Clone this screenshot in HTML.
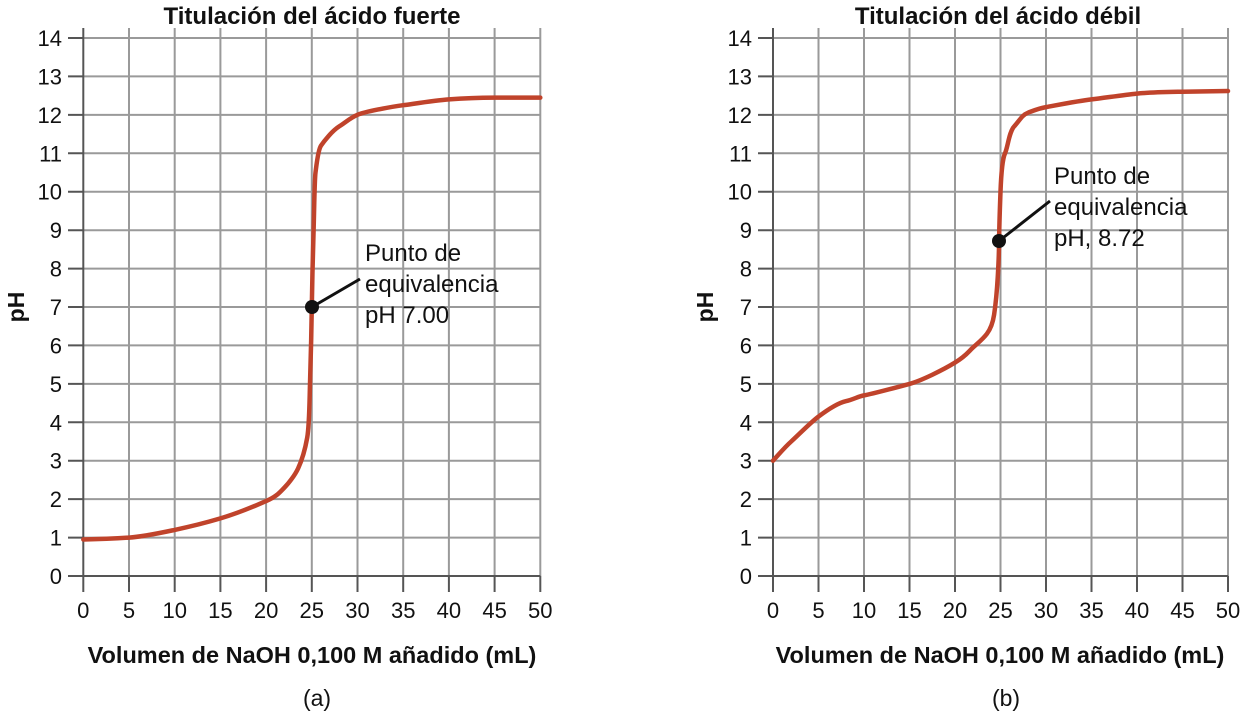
<!DOCTYPE html>
<html><head><meta charset="utf-8"><style>
html,body{margin:0;padding:0;background:#fff;}
svg{display:block;font-family:"Liberation Sans",sans-serif;}
</style></head><body>
<svg width="1258" height="715" viewBox="0 0 1258 715" xmlns="http://www.w3.org/2000/svg">

<!-- LEFT CHART -->
<g>
  <g stroke="#9a9a9a" stroke-width="2">
    <line x1="83.3" y1="38" x2="540" y2="38"/><line x1="83.3" y1="76.4" x2="540" y2="76.4"/>
    <line x1="83.3" y1="114.9" x2="540" y2="114.9"/><line x1="83.3" y1="153.3" x2="540" y2="153.3"/>
    <line x1="83.3" y1="191.7" x2="540" y2="191.7"/><line x1="83.3" y1="230.2" x2="540" y2="230.2"/>
    <line x1="83.3" y1="268.6" x2="540" y2="268.6"/><line x1="83.3" y1="307" x2="540" y2="307"/>
    <line x1="83.3" y1="345.4" x2="540" y2="345.4"/><line x1="83.3" y1="383.9" x2="540" y2="383.9"/>
    <line x1="83.3" y1="422.3" x2="540" y2="422.3"/><line x1="83.3" y1="460.7" x2="540" y2="460.7"/>
    <line x1="83.3" y1="499.1" x2="540" y2="499.1"/><line x1="83.3" y1="537.6" x2="540" y2="537.6"/>
    <line x1="129" y1="28" x2="129" y2="576"/><line x1="174.7" y1="28" x2="174.7" y2="576"/>
    <line x1="220.4" y1="28" x2="220.4" y2="576"/><line x1="266.1" y1="28" x2="266.1" y2="576"/>
    <line x1="311.8" y1="28" x2="311.8" y2="576"/><line x1="357.5" y1="28" x2="357.5" y2="576"/>
    <line x1="403.2" y1="28" x2="403.2" y2="576"/><line x1="448.9" y1="28" x2="448.9" y2="576"/>
    <line x1="494.6" y1="28" x2="494.6" y2="576"/><line x1="540.3" y1="28" x2="540.3" y2="576"/>
  </g>
  <g stroke="#555" stroke-width="2">
    <line x1="83.3" y1="28" x2="83.3" y2="592"/>
    <line x1="68" y1="576" x2="540.3" y2="576"/>
    <path d="M68 38H83M68 76.4H83M68 114.9H83M68 153.3H83M68 191.7H83M68 230.2H83M68 268.6H83M68 307H83M68 345.4H83M68 383.9H83M68 422.3H83M68 460.7H83M68 499.1H83M68 537.6H83"/>
    <path d="M129 576V592M174.7 576V592M220.4 576V592M266.1 576V592M311.8 576V592M357.5 576V592M403.2 576V592M448.9 576V592M494.6 576V592M540.3 576V592"/>
  </g>
  <g font-size="22" fill="#111" text-anchor="end">
    <text x="62" y="46">14</text><text x="62" y="84.4">13</text><text x="62" y="122.9">12</text>
    <text x="62" y="161.3">11</text><text x="62" y="199.7">10</text><text x="62" y="238.2">9</text>
    <text x="62" y="276.6">8</text><text x="62" y="315">7</text><text x="62" y="353.4">6</text>
    <text x="62" y="391.9">5</text><text x="62" y="430.3">4</text><text x="62" y="468.7">3</text>
    <text x="62" y="507.1">2</text><text x="62" y="545.6">1</text><text x="62" y="584">0</text>
  </g>
  <g font-size="22" fill="#111" text-anchor="middle">
    <text x="83.3" y="618">0</text><text x="129" y="618">5</text><text x="174.7" y="618">10</text>
    <text x="220.4" y="618">15</text><text x="266.1" y="618">20</text><text x="311.8" y="618">25</text>
    <text x="357.5" y="618">30</text><text x="403.2" y="618">35</text><text x="448.9" y="618">40</text>
    <text x="494.6" y="618">45</text><text x="540.3" y="618">50</text>
  </g>
  <text x="312" y="24" font-size="24" font-weight="bold" text-anchor="middle" fill="#111">Titulación del ácido fuerte</text>
  <text x="312" y="663" font-size="23.5" font-weight="bold" text-anchor="middle" fill="#111">Volumen de NaOH 0,100 M añadido (mL)</text>
  <text x="317" y="706" font-size="23" text-anchor="middle" fill="#111">(a)</text>
  <text transform="translate(24,307) rotate(-90)" font-size="23" font-weight="bold" text-anchor="middle" fill="#111">pH</text>
  <path d="M83.3 539.5 C105 539 115 538.5 129 537.6 S160 533 174.7 529.9 S205 523 220.4 518.4 S255 506 266.1 501.1 S280 492 284.4 487.6 S295 475 298.1 468.4 S305 450 307.2 437.7 S309.5 400 310 383.9 S311.5 330 311.8 307 S313 250 313.6 230.1 S314.5 180 315.5 172.5 S318 150 321 145.6 S332 131 339.2 126.4 S350 118 357.5 114.8 S390 107 403.2 105.2 S435 100.5 448.9 99.4 S480 97.6 494.6 97.6 L540.3 97.6" fill="none" stroke="#c0432b" stroke-width="4.5" stroke-linecap="round"/>
  <line x1="312" y1="307" x2="360" y2="279" stroke="#111" stroke-width="3"/>
  <circle cx="312" cy="307" r="7" fill="#111"/>
  <g font-size="24" fill="#111">
    <text x="365" y="261">Punto de</text>
    <text x="365" y="292">equivalencia</text>
    <text x="365" y="323">pH 7.00</text>
  </g>
</g>

<!-- RIGHT CHART -->
<g>
  <g stroke="#9a9a9a" stroke-width="2">
    <line x1="773" y1="38" x2="1228" y2="38"/><line x1="773" y1="76.4" x2="1228" y2="76.4"/>
    <line x1="773" y1="114.9" x2="1228" y2="114.9"/><line x1="773" y1="153.3" x2="1228" y2="153.3"/>
    <line x1="773" y1="191.7" x2="1228" y2="191.7"/><line x1="773" y1="230.2" x2="1228" y2="230.2"/>
    <line x1="773" y1="268.6" x2="1228" y2="268.6"/><line x1="773" y1="307" x2="1228" y2="307"/>
    <line x1="773" y1="345.4" x2="1228" y2="345.4"/><line x1="773" y1="383.9" x2="1228" y2="383.9"/>
    <line x1="773" y1="422.3" x2="1228" y2="422.3"/><line x1="773" y1="460.7" x2="1228" y2="460.7"/>
    <line x1="773" y1="499.1" x2="1228" y2="499.1"/><line x1="773" y1="537.6" x2="1228" y2="537.6"/>
    <line x1="818.5" y1="28" x2="818.5" y2="576"/><line x1="864" y1="28" x2="864" y2="576"/>
    <line x1="909.5" y1="28" x2="909.5" y2="576"/><line x1="955" y1="28" x2="955" y2="576"/>
    <line x1="1000.5" y1="28" x2="1000.5" y2="576"/><line x1="1046" y1="28" x2="1046" y2="576"/>
    <line x1="1091.5" y1="28" x2="1091.5" y2="576"/><line x1="1137" y1="28" x2="1137" y2="576"/>
    <line x1="1182.5" y1="28" x2="1182.5" y2="576"/><line x1="1228" y1="28" x2="1228" y2="576"/>
  </g>
  <g stroke="#555" stroke-width="2">
    <line x1="773" y1="28" x2="773" y2="592"/>
    <line x1="758" y1="576" x2="1228" y2="576"/>
    <path d="M758 38H773M758 76.4H773M758 114.9H773M758 153.3H773M758 191.7H773M758 230.2H773M758 268.6H773M758 307H773M758 345.4H773M758 383.9H773M758 422.3H773M758 460.7H773M758 499.1H773M758 537.6H773"/>
    <path d="M818.5 576V592M864 576V592M909.5 576V592M955 576V592M1000.5 576V592M1046 576V592M1091.5 576V592M1137 576V592M1182.5 576V592M1228 576V592"/>
  </g>
  <g font-size="22" fill="#111" text-anchor="end">
    <text x="752" y="46">14</text><text x="752" y="84.4">13</text><text x="752" y="122.9">12</text>
    <text x="752" y="161.3">11</text><text x="752" y="199.7">10</text><text x="752" y="238.2">9</text>
    <text x="752" y="276.6">8</text><text x="752" y="315">7</text><text x="752" y="353.4">6</text>
    <text x="752" y="391.9">5</text><text x="752" y="430.3">4</text><text x="752" y="468.7">3</text>
    <text x="752" y="507.1">2</text><text x="752" y="545.6">1</text><text x="752" y="584">0</text>
  </g>
  <g font-size="22" fill="#111" text-anchor="middle">
    <text x="773" y="618">0</text><text x="818.5" y="618">5</text><text x="864" y="618">10</text>
    <text x="909.5" y="618">15</text><text x="955" y="618">20</text><text x="1000.5" y="618">25</text>
    <text x="1046" y="618">30</text><text x="1091.5" y="618">35</text><text x="1137" y="618">40</text>
    <text x="1182.5" y="618">45</text><text x="1228" y="618">50</text>
  </g>
  <text x="998" y="24" font-size="24" font-weight="bold" text-anchor="middle" fill="#111">Titulación del ácido débil</text>
  <text x="1000" y="663" font-size="23.5" font-weight="bold" text-anchor="middle" fill="#111">Volumen de NaOH 0,100 M añadido (mL)</text>
  <text x="1006" y="706" font-size="23" text-anchor="middle" fill="#111">(b)</text>
  <text transform="translate(713,307) rotate(-90)" font-size="23" font-weight="bold" text-anchor="middle" fill="#111">pH</text>
  <path d="M773 460.7 C780 453 785 447 791.2 441.5 S810 423 818.5 416.6 S838 403 845.8 401.2 S858 396.5 864 395.4 S898 387 909.5 383.9 S943 370 955 362.6 S968 352 973.2 347.3 S983 339 986.9 333.8 S993 322 994.1 314.7 S997 290 997.8 276.2 S999 255 999.1 241 S1000 205 1000.5 191.7 S1002 160 1005 153.3 S1009 132 1014.2 126.4 S1022 115 1027.8 112.8 S1038 108.5 1046 107.1 S1078 101 1091.5 99.4 S1123 95 1137 93.6 S1168 92 1182.5 91.7 L1228 91" fill="none" stroke="#c0432b" stroke-width="4.5" stroke-linecap="round"/>
  <line x1="999" y1="241" x2="1050" y2="201" stroke="#111" stroke-width="3"/>
  <circle cx="999" cy="241" r="7" fill="#111"/>
  <g font-size="24" fill="#111">
    <text x="1054" y="184">Punto de</text>
    <text x="1054" y="215">equivalencia</text>
    <text x="1054" y="246">pH, 8.72</text>
  </g>
</g>
</svg>
</body></html>
